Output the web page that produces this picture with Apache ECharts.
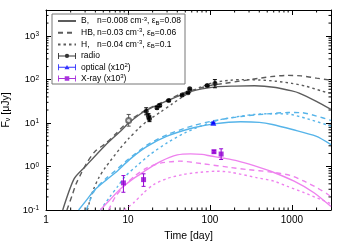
<!DOCTYPE html>
<html><head><meta charset="utf-8">
<script src="https://cdn.jsdelivr.net/npm/echarts@6/dist/echarts.min.js"></script>
<style>html,body{margin:0;padding:0;background:#fff}#c{width:350px;height:245px}</style>
</head><body><div id="c"></div>
<script>
// ---- model curves (time [day], flux [uJy]) ----
const radioB_t = [1.6,2.2,3,5.3,8.1,10.2,14,17,33,58,117,200,350,636,1000,1225,1960,3000];
const radioB_f = [0.1,0.52,0.99,3.1,6.5,10,16,20,35,53,68,71,72,66,55,49,32,20.6];
const radioHB_t = [1.8,2.1,2.31,2.73,3.15,3.98,5.27,7,10,15,20,30,47.6,100,150,257,393,552,843,1300,2000,3000];
const radioHB_f = [0.1,0.226,0.385,0.74,1.22,2.25,3.33,5.5,10.8,18,24,33.5,49.6,73,82,95,107,117,125,122,108,97];
const radioH_t = [3.2,3.5,3.8,4.4,5.3,8,10.2,13.5,17,25,35,50,75,112,180,250,400,636,1000,1500,2370,3000];
const radioH_f = [0.1,0.19,0.3,0.55,0.95,2.6,4.4,7.5,11,18,28,44,66,86,97,100,98,92,82,70,54,48];

const optB_t = [2.5,3,3.97,5.5,7,10.7,17.1,30,63,112,237,400,579,1016,1963,3000];
const optB_f = [0.1,0.154,0.295,0.5,0.72,1.5,2.9,5.0,7.8,9.6,10.7,10.4,9.3,7.1,5.0,3.2];
const optHB_t = [3.1,3.5,4.0,5.5,7,10,17,30,63,112,240,500,900,1300,2000,3000];
const optHB_f = [0.1,0.18,0.3,0.55,0.8,1.45,3.1,5.4,8.8,11.3,14.2,16.3,17.5,17.4,14.5,11.5];
const optH_t = [4.6,6,7.5,9.3,12.9,18.7,30,50,77,134,250,345,550,880,1560,3000];
const optH_f = [0.1,0.2,0.35,0.6,1.05,1.9,3.5,6.0,8.5,12,14.6,15.8,16.4,16.2,12.5,8.5];

const xB_t = [4.6,6,8,11.2,14,17,24.8,40,58,80,102,149,216,345,552,1064,1860,3000];
const xB_f = [0.1,0.17,0.3,0.5,0.66,0.85,1.3,1.85,1.96,1.9,1.75,1.55,1.35,1.05,0.78,0.46,0.25,0.12];
const xHB_t = [5.8,7,9,12,17,25,43,84,180,290,550,970,1410,2057,2730,3000];
const xHB_f = [0.1,0.2,0.36,0.6,0.93,1.2,1.33,1.15,0.95,0.85,0.75,0.62,0.46,0.32,0.23,0.2];
const xH_t = [9,11.7,15.5,20.6,30,48,77,122,179,379,605,883,1410,2258,3000];
const xH_f = [0.1,0.146,0.248,0.385,0.53,0.66,0.74,0.78,0.74,0.55,0.46,0.35,0.25,0.174,0.14];

// ---- observations ----
const radio_t  = [16.7,17.8,18.3,22.6,24.4,31.4,45.8,54,56.7,92.7,115];
const radio_f  = [18.8,14.4,12.6,22.5,25.4,33,44,50,61.7,73,81.5];
const radio_lo = [15.5,12.5,10.8,21,24,31.5,42,48,59,70,65];
const radio_hi = [22.5,16.5,14.5,24,27,34.5,46,52,64,76,100];
const radioOpen_t = [10.2], radioOpen_f = [11.5], radioOpen_lo = [8.5], radioOpen_hi = [15.8];
const opt_t = [110], opt_f = [10.2], opt_lo = [9.9], opt_hi = [10.5];
const xr_t  = [8.8,15.5,112,137];
const xr_f  = [0.42,0.50,2.2,1.94];
const xr_lo = [0.256,0.35,2.05,1.45];
const xr_hi = [0.62,0.68,2.35,2.56];

// ---- ticks ----
const xTickLabels = [1,10,100,1000];
const yTickExps = [-1,0,1,2,3];

const FONT = 'Liberation Sans';
const gray = '#5c5c5c', sky = '#56b4e9', vio = '#ee82ee';
const DASH = [5,4], DOT = [2.5,3];

const pts = (t,f) => t.map((x,i)=>[x,f[i]]);
function curve(name,t,f,color,type){
  return {type:'line',name,data:pts(t,f),showSymbol:false,symbol:'none',smooth:0.25,clip:true,
    lineStyle:{color,width:1.4,type},itemStyle:{color},z:2,silent:true};
}
function errSeries(name,t,lo,hi,color){
  return {type:'custom',name,data:t.map((x,i)=>[x,lo[i],hi[i]]),encode:{x:0,y:[1,2]},z:3,silent:true,
    renderItem(p,api){
      const v=api.value(0);
      const a=api.coord([v,api.value(1)]), b=api.coord([v,api.value(2)]);
      const st={stroke:color,lineWidth:1};
      return {type:'group',children:[
        {type:'line',shape:{x1:a[0],y1:a[1],x2:b[0],y2:b[1]},style:st},
        {type:'line',shape:{x1:a[0]-2,y1:a[1],x2:a[0]+2,y2:a[1]},style:st},
        {type:'line',shape:{x1:b[0]-2,y1:b[1],x2:b[0]+2,y2:b[1]},style:st}]};
    }};
}
const xMinor=[], yMinor=[];
for(let e=0;e<=3;e++) for(let m=2;m<=9;m++){const v=m*Math.pow(10,e); if(v<3000) xMinor.push(v);}
for(let e=-1;e<=3;e++) for(let m=2;m<=9;m++){const v=m*Math.pow(10,e); if(v<4000) yMinor.push(v);}
const minorX = {type:'custom',data:xMinor.map(v=>[v,1]),silent:true,z:1,
  renderItem(p,api){const cs=p.coordSys;const x=api.coord([api.value(0),1])[0];const st={stroke:'#000',lineWidth:1};
    return {type:'group',children:[
      {type:'line',shape:{x1:x,y1:cs.y+cs.height,x2:x,y2:cs.y+cs.height-2.5},style:st},
      {type:'line',shape:{x1:x,y1:cs.y,x2:x,y2:cs.y+2.5},style:st}]};}};
const minorY = {type:'custom',data:yMinor.map(v=>[1,v]),silent:true,z:1,
  renderItem(p,api){const cs=p.coordSys;const y=api.coord([1,api.value(1)])[1];const st={stroke:'#000',lineWidth:1};
    return {type:'group',children:[
      {type:'line',shape:{x1:cs.x,y1:y,x2:cs.x+2.5,y2:y},style:st},
      {type:'line',shape:{x1:cs.x+cs.width,y1:y,x2:cs.x+cs.width-2.5,y2:y},style:st}]};}};

const legendText = {
  'B':  '{k|B,}{t|n=0.008 cm}{sup|-3}{t|, ε}{sub|B}{t|=0.08}',
  'HB': '{k|HB,}{t|n=0.03 cm}{sup|-3}{t|, ε}{sub|B}{t|=0.06}',
  'H':  '{k|H,}{t|n=0.04 cm}{sup|-3}{t|, ε}{sub|B}{t|=0.1}',
  'radio': '{t|radio}',
  'optical': '{t|optical (x10}{sup|2}{t|)}',
  'X-ray': '{t|X-ray (x10}{sup|3}{t|)}'
};
const bars = 'M0,0H1.5V10H0Z M28.5,0H30V10H28.5Z M0,4.2H30V5.8H0Z ';
const radioIcon = 'path://'+bars+'M11.4,5A3.6,3.6 0 1 1 18.6,5A3.6,3.6 0 1 1 11.4,5Z';
const optIcon = 'path://'+bars+'M15,1.2L19.2,8.6L10.8,8.6Z';
const xIcon = 'path://'+bars+'M11.2,1.2H18.8V8.8H11.2Z';
const noSym = {opacity:0};

const axCommon = {type:'log',logBase:10,splitLine:{show:false},minorTick:{show:false},
  axisLine:{show:true,lineStyle:{color:'#000',width:1}},
  axisTick:{show:true,inside:true,length:5,lineStyle:{color:'#000',width:1}}};

const option = {
  animation:false,
  textStyle:{fontFamily:FONT},
  grid:{left:46,right:19,top:10,bottom:35,containLabel:false,outerBoundsMode:'none'},
  legend:{
    orient:'vertical',left:52,top:14,itemWidth:18,itemHeight:6,itemGap:1.8,
    padding:[2,4,1,5],borderColor:'#777',borderWidth:1,selectedMode:false,
    data:[{name:'B',itemStyle:noSym},{name:'HB',itemStyle:noSym},{name:'H',itemStyle:noSym},
          {name:'radio',icon:radioIcon},{name:'optical',icon:optIcon},{name:'X-ray',icon:xIcon}],
    formatter:n=>legendText[n],
    textStyle:{color:'#000',fontSize:8.5,fontFamily:FONT,rich:{
      t:{fontSize:8.5,lineHeight:10,color:'#000',fontFamily:FONT},
      k:{fontSize:8.5,lineHeight:10,width:16,color:'#000',fontFamily:FONT},
      sup:{fontSize:6,lineHeight:3,verticalAlign:'top',color:'#000',fontFamily:FONT},
      sub:{fontSize:6,lineHeight:6,verticalAlign:'bottom',color:'#000',fontFamily:FONT}}}
  },
  xAxis:[
    Object.assign({},axCommon,{min:1,max:3000,position:'bottom',
      axisLabel:{color:'#000',fontSize:10,margin:5,showMaxLabel:false,fontFamily:FONT,
        formatter:v=>{const r=Math.round(v);return xTickLabels.includes(r)&&Math.abs(r-v)<1e-6?String(r):'';}},
      name:'Time [day]',nameLocation:'middle',nameGap:21,nameTextStyle:{color:'#000',fontSize:10.5,fontFamily:FONT}}),
    Object.assign({},axCommon,{min:1,max:3000,position:'top',axisLabel:{show:false}})
  ],
  yAxis:[
    Object.assign({},axCommon,{min:0.1,max:4000,position:'left',
      axisLabel:{color:'#000',margin:7,showMaxLabel:false,
        formatter:v=>{const e=Math.round(Math.log10(v));return (yTickExps.includes(e)&&Math.abs(Math.log10(v)-e)<1e-6)?'{b|10}{s|'+e+'}':'';},
        rich:{b:{fontSize:9.5,lineHeight:10,color:'#000',fontFamily:FONT},
              s:{fontSize:6.5,lineHeight:3,verticalAlign:'top',color:'#000',fontFamily:FONT}}},
      name:'{b|F}{sub|ν}{b| [μJy]}',nameLocation:'middle',nameGap:33,
      nameTextStyle:{color:'#000',fontSize:10.5,fontFamily:FONT,rich:{
        b:{fontSize:10.5,lineHeight:11,color:'#000',fontFamily:FONT},
        sub:{fontSize:7,lineHeight:6,verticalAlign:'bottom',color:'#000',fontFamily:FONT}}}}),
    Object.assign({},axCommon,{min:0.1,max:4000,position:'right',axisLabel:{show:false}})
  ],
  series:[
    minorX, minorY,
    curve('B',radioB_t,radioB_f,gray,'solid'),
    curve('HB',radioHB_t,radioHB_f,gray,DASH),
    curve('H',radioH_t,radioH_f,gray,DOT),
    curve('optB',optB_t,optB_f,sky,'solid'),
    curve('optHB',optHB_t,optHB_f,sky,DASH),
    curve('optH',optH_t,optH_f,sky,DOT),
    curve('xB',xB_t,xB_f,vio,'solid'),
    curve('xHB',xHB_t,xHB_f,vio,DASH),
    curve('xH',xH_t,xH_f,vio,DOT),
    errSeries('radio_err',radio_t,radio_lo,radio_hi,'#000'),
    errSeries('radioOpen_err',radioOpen_t,radioOpen_lo,radioOpen_hi,'#555'),
    errSeries('opt_err',opt_t,opt_lo,opt_hi,'#0000ff'),
    errSeries('xr_err',xr_t,xr_lo,xr_hi,'#9400d3'),
    {type:'scatter',name:'radio',data:pts(radio_t,radio_f),symbol:'circle',symbolSize:5,itemStyle:{color:'#000'},z:4,silent:true},
    {type:'scatter',name:'radioOpen',data:pts(radioOpen_t,radioOpen_f),symbol:'emptyCircle',symbolSize:5,itemStyle:{color:'#555',borderWidth:1},z:4,silent:true},
    {type:'scatter',name:'optical',data:pts(opt_t,opt_f),symbol:'triangle',symbolSize:6,itemStyle:{color:'#0000ff'},z:4,silent:true},
    {type:'scatter',name:'X-ray',data:pts(xr_t,xr_f),symbol:'rect',symbolSize:5,itemStyle:{color:'#9400d3'},z:4,silent:true}
  ]
};
echarts.init(document.getElementById('c'),null,{renderer:'canvas'}).setOption(option);
</script></body></html>
